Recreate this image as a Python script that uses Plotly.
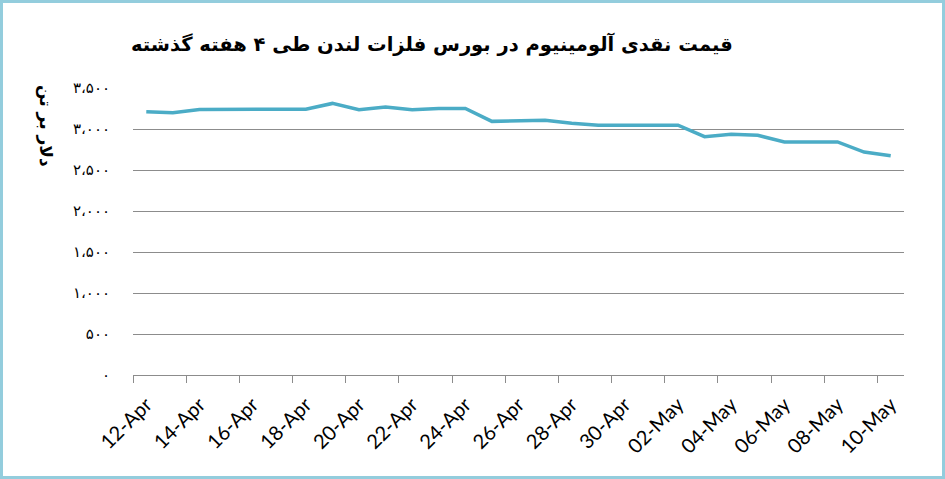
import pandas as pd
import plotly.graph_objects as go

# LME aluminium cash price, USD per tonne, 12-Apr to 10-May
dates = pd.date_range("2022-04-12", "2022-05-10", freq="D")
prices = [
    3211, 3199, 3239, 3240, 3240, 3240, 3240, 3312, 3235, 3268,
    3235, 3251, 3251, 3093, 3102, 3106, 3070, 3046, 3046, 3046,
    3046, 2906, 2935, 2923, 2842, 2842, 2842, 2719, 2675,
]

y_ticks = [0, 500, 1000, 1500, 2000, 2500, 3000, 3500]
y_labels = ["۰", "۵۰۰", "۱،۰۰۰", "۱،۵۰۰", "۲،۰۰۰", "۲،۵۰۰", "۳،۰۰۰", "۳،۵۰۰"]

title_text = "قیمت نقدی آلومینیوم در بورس فلزات لندن طی ۴ هفته گذشته"
y_title = "دلار بر تن"

W, H = 945, 479
ML, MR, MT, MB = 133, 41, 88, 104
pw, ph = W - ML - MR, H - MT - MB

half_day = pd.Timedelta(hours=12)
label_dates = dates[::2]

fig = go.Figure(go.Scatter(
    x=dates,
    y=prices,
    mode="lines",
    line=dict(color="#4BACC6", width=3.5),
    showlegend=False,
    hoverinfo="x+y",
))

fig.update_layout(
    width=W,
    height=H,
    margin=dict(l=ML, r=MR, t=MT, b=MB),
    paper_bgcolor="white",
    plot_bgcolor="white",
    font=dict(family="DejaVu Sans", color="black"),
    xaxis=dict(
        type="date",
        range=[dates[0] - half_day, dates[-1] + half_day],
        tickvals=label_dates,
        ticktext=[d.strftime("%d-%b") for d in label_dates],
        tickangle=-45,
        ticks="",
        tickfont=dict(family="Lato", size=20, color="black"),
        ticklabelstandoff=9,
        ticklabelshift=0,
        showgrid=False,
        showline=True,
        linecolor="#8c8c8c",
        linewidth=1,
        minor=dict(
            tickvals=[d - half_day for d in label_dates],
            ticks="outside",
            ticklen=7,
            tickcolor="#8c8c8c",
            tickwidth=1,
            showgrid=False,
        ),
    ),
    yaxis=dict(
        range=[0, 3500],
        tickvals=y_ticks,
        ticktext=y_labels,
        tickfont=dict(family="DejaVu Sans", size=15, color="black"),
        ticklabelstandoff=22,
        showgrid=True,
        gridcolor="#8c8c8c",
        gridwidth=1,
        zeroline=False,
        showline=False,
        ticks="",
    ),
    annotations=[
        dict(
            text="<b>" + title_text + "</b>",
            xref="paper", yref="paper",
            x=(432 - ML) / pw, y=1 + (MT - 44) / ph,
            xanchor="center", yanchor="middle",
            showarrow=False,
            font=dict(family="DejaVu Sans", size=19.5, color="black"),
        ),
        dict(
            text="<b>" + y_title + "</b>",
            xref="paper", yref="paper",
            x=(46 - ML) / pw, y=1 - (126 - MT) / ph,
            xanchor="center", yanchor="middle",
            textangle=90,
            showarrow=False,
            font=dict(family="DejaVu Sans", size=17, color="black"),
        ),
    ],
    shapes=[
        dict(
            type="rect",
            xref="paper", yref="paper",
            x0=-(ML - 1.5) / pw, x1=1 + (MR - 1.5) / pw,
            y0=-(MB - 1.5) / ph, y1=1 + (MT - 1.5) / ph,
            line=dict(color="#93CDDD", width=3),
            fillcolor="rgba(0,0,0,0)",
            layer="below",
        ),
    ],
)

fig.write_html(
    "out.html",
    config={"displayModeBar": False},
    post_script="document.body.style.margin='0';",
)
